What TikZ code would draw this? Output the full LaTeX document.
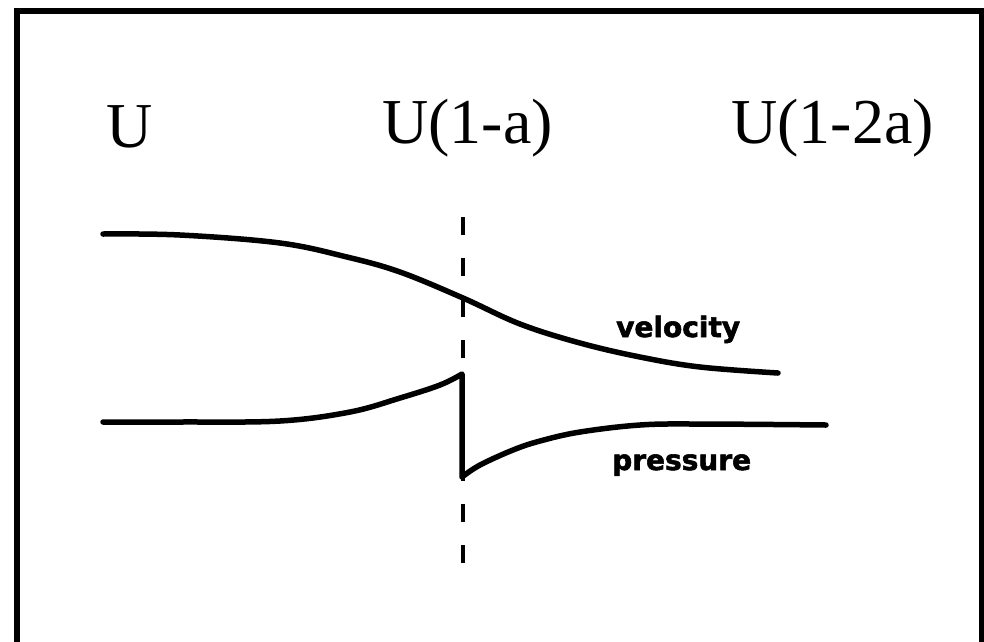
\documentclass[tikz,border=0pt]{standalone}
\usepackage{fontspec}
\setmainfont{Liberation Serif}
\newfontfamily\labfont{DejaVu Sans Bold}[FakeBold=2]
\begin{document}
\begin{tikzpicture}[x=1pt,y=-1pt,
  bigtext/.style={anchor=base west,inner sep=0pt,font=\fontsize{64}{64}\selectfont},
  smalltext/.style={anchor=base west,inner sep=0pt,font=\labfont\fontsize{28}{28}\selectfont},
  curve/.style={line width=5.5pt,line cap=round,line join=round},
  frameline/.style={line width=6pt,line join=miter}]
\useasboundingbox (0,0) rectangle (984,641);
\fill[white] (0,0) rectangle (984,641);
% frame (open at the bottom)
\draw[frameline] (16.5,660) -- (16.5,10.5) -- (981.5,10.5) -- (981.5,660);
% labels
\node[bigtext] (u0) at (106,147) {U};
\node[bigtext] (u1) at (382,143) {U(1-a)};
\node[bigtext] (u2) at (731,143) {U(1-2a)};
\node[smalltext] (vel) at (616,337) {velocity};
\node[smalltext] (pre) at (612,470) {pressure};
% dashed line
\coordinate (dtop) at (463,217);
\coordinate (dbot) at (463,566);
\draw[line width=4.5pt,dash pattern=on 18pt off 23pt] (dtop) -- (dbot);
% velocity curve
\draw[curve] plot[smooth,tension=0.6] coordinates {(103,234) (180,235) (280,243) (347,257) (400,272) (463,298) (520,324) (580,343) (640,357) (700,367) (778,373)};
% pressure curve
\draw[curve] plot[smooth,tension=0.6] coordinates {(103,422) (180,422) (280,421) (350,412) (400,398) (440,385) (462,374)}
  -- (462,477)
  plot[smooth,tension=0.6] coordinates {(462,477) (480,465) (513,450) (540,441) (580,432) (640,425) (700,424) (826,425)};
\end{tikzpicture}
\end{document}
